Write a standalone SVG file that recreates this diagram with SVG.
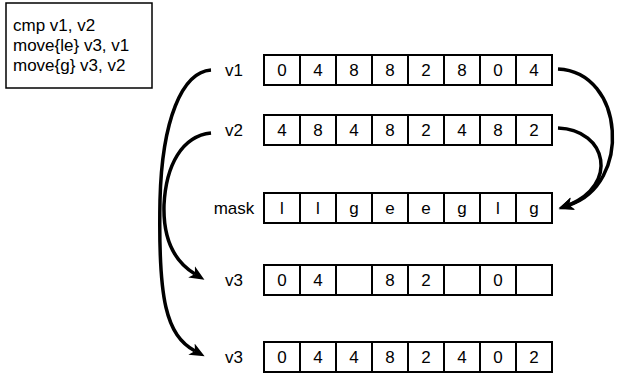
<svg xmlns="http://www.w3.org/2000/svg" width="621" height="377" viewBox="0 0 621 377">
<defs>
<style>
text{font-family:"Liberation Sans",Arial,sans-serif;font-size:17px;fill:#000}
.lbl{text-anchor:middle}
.c{text-anchor:middle}
.cell{fill:#fff;stroke:#000;stroke-width:2}
.box{fill:#fff;stroke:#000;stroke-width:1.5}
.conn{fill:none;stroke:#000;stroke-width:3.5;marker-end:url(#arr)}
</style>
<marker id="arr" markerUnits="userSpaceOnUse" markerWidth="16" markerHeight="14" refX="4" refY="6.5" orient="auto" viewBox="0 0 16 13">
<path d="M0,0 L15,6.5 L0,13 L4,6.5 Z" fill="#000"/>
</marker>
</defs>
<g id="code">
<rect class="box" x="6" y="3" width="146" height="85"/>
<text x="13" y="31">cmp v1, v2</text>
<text x="13" y="51">move{le} v3, v1</text>
<text x="13" y="71">move{g} v3, v2</text>
</g>
<g id="v1">
<text class="lbl" x="234" y="76">v1</text>
<g transform="translate(264,55)">
<rect class="cell" x="0" width="36" height="30"/><rect class="cell" x="36" width="36" height="30"/><rect class="cell" x="72" width="36" height="30"/><rect class="cell" x="108" width="36" height="30"/><rect class="cell" x="144" width="36" height="30"/><rect class="cell" x="180" width="36" height="30"/><rect class="cell" x="216" width="36" height="30"/><rect class="cell" x="252" width="36" height="30"/>
<text class="c" x="18" y="21">0</text><text class="c" x="54" y="21">4</text><text class="c" x="90" y="21">8</text><text class="c" x="126" y="21">8</text><text class="c" x="162" y="21">2</text><text class="c" x="198" y="21">8</text><text class="c" x="234" y="21">0</text><text class="c" x="270" y="21">4</text>
</g>
</g>
<g id="v2">
<text class="lbl" x="234" y="136">v2</text>
<g transform="translate(264,115)">
<rect class="cell" x="0" width="36" height="30"/><rect class="cell" x="36" width="36" height="30"/><rect class="cell" x="72" width="36" height="30"/><rect class="cell" x="108" width="36" height="30"/><rect class="cell" x="144" width="36" height="30"/><rect class="cell" x="180" width="36" height="30"/><rect class="cell" x="216" width="36" height="30"/><rect class="cell" x="252" width="36" height="30"/>
<text class="c" x="18" y="21">4</text><text class="c" x="54" y="21">8</text><text class="c" x="90" y="21">4</text><text class="c" x="126" y="21">8</text><text class="c" x="162" y="21">2</text><text class="c" x="198" y="21">4</text><text class="c" x="234" y="21">8</text><text class="c" x="270" y="21">2</text>
</g>
</g>
<g id="mask">
<text class="lbl" x="234" y="214">mask</text>
<g transform="translate(264,193)">
<rect class="cell" x="0" width="36" height="30"/><rect class="cell" x="36" width="36" height="30"/><rect class="cell" x="72" width="36" height="30"/><rect class="cell" x="108" width="36" height="30"/><rect class="cell" x="144" width="36" height="30"/><rect class="cell" x="180" width="36" height="30"/><rect class="cell" x="216" width="36" height="30"/><rect class="cell" x="252" width="36" height="30"/>
<text class="c" x="18" y="21">l</text><text class="c" x="54" y="21">l</text><text class="c" x="90" y="21">g</text><text class="c" x="126" y="21">e</text><text class="c" x="162" y="21">e</text><text class="c" x="198" y="21">g</text><text class="c" x="234" y="21">l</text><text class="c" x="270" y="21">g</text>
</g>
</g>
<g id="v3a">
<text class="lbl" x="234" y="286">v3</text>
<g transform="translate(264,265)">
<rect class="cell" x="0" width="36" height="30"/><rect class="cell" x="36" width="36" height="30"/><rect class="cell" x="72" width="36" height="30"/><rect class="cell" x="108" width="36" height="30"/><rect class="cell" x="144" width="36" height="30"/><rect class="cell" x="180" width="36" height="30"/><rect class="cell" x="216" width="36" height="30"/><rect class="cell" x="252" width="36" height="30"/>
<text class="c" x="18" y="21">0</text><text class="c" x="54" y="21">4</text><text class="c" x="126" y="21">8</text><text class="c" x="162" y="21">2</text><text class="c" x="234" y="21">0</text>
</g>
</g>
<g id="v3b">
<text class="lbl" x="234" y="363">v3</text>
<g transform="translate(264,342)">
<rect class="cell" x="0" width="36" height="30"/><rect class="cell" x="36" width="36" height="30"/><rect class="cell" x="72" width="36" height="30"/><rect class="cell" x="108" width="36" height="30"/><rect class="cell" x="144" width="36" height="30"/><rect class="cell" x="180" width="36" height="30"/><rect class="cell" x="216" width="36" height="30"/><rect class="cell" x="252" width="36" height="30"/>
<text class="c" x="18" y="21">0</text><text class="c" x="54" y="21">4</text><text class="c" x="90" y="21">4</text><text class="c" x="126" y="21">8</text><text class="c" x="162" y="21">2</text><text class="c" x="198" y="21">4</text><text class="c" x="234" y="21">0</text><text class="c" x="270" y="21">2</text>
</g>
</g>
<g id="connectors">
<path class="conn" d="M211,70 C182,72 162,120 160,200 C158,300 166,335 195,351"/>
<path class="conn" d="M211,133 C182,136 166,165 164,205 C163,240 175,262 195,274"/>
<path class="conn" d="M558,69 C625,72 632,185 569,205"/>
<path class="conn" d="M558,128 C608,130 618,185 569,205"/>
</g>
</svg>
